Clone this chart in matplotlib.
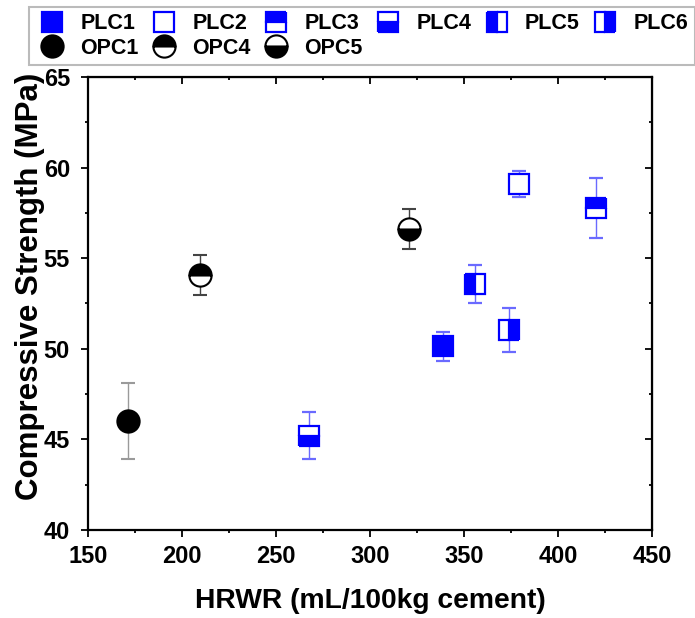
import matplotlib.pyplot as plt
from matplotlib.lines import Line2D
from matplotlib.ticker import MultipleLocator

plt.rcParams['font.family'] = ['Liberation Sans', 'DejaVu Sans']
plt.rcParams['font.weight'] = 'bold'
plt.rcParams['axes.labelweight'] = 'bold'

# PLC mixes
plc_names = ["PLC1", "PLC2", "PLC3", "PLC4", "PLC5", "PLC6"]
plc_hrwr = [339, 379, 420, 267.5, 356, 374]
plc_strength = [50.15, 59.1, 57.75, 45.2, 53.6, 51.05]
plc_err = [0.8, 0.7, 1.65, 1.3, 1.05, 1.2]
plc_fill = ["full", "none", "top", "bottom", "left", "right"]

# OPC mixes
opc_names = ["OPC1", "OPC4", "OPC5"]
opc_hrwr = [171.5, 209.5, 321]
opc_strength = [46.0, 54.05, 56.6]
opc_err = [2.1, 1.1, 1.1]
opc_fill = ["full", "top", "bottom"]
opc_ecol = ["#9a9a9a", "#444444", "#444444"]

blue = "#0000ff"

fig = plt.figure(figsize=(6.95, 6.18), dpi=100)
ax = fig.add_axes([0.1266, 0.1424, 0.8115, 0.733])

plc_handles = []
for name, x, y, e, fs in zip(plc_names, plc_hrwr, plc_strength, plc_err, plc_fill):
    style = dict(marker="s", ms=14.5, mec=blue, mew=1.6, mfc=blue,
                 markerfacecoloralt="white", fillstyle=fs, linestyle="none")
    if fs == "none":
        style.update(mfc="white", fillstyle="full")
    ax.errorbar(x, y, yerr=e, ecolor="#6a6aff", elinewidth=1.0, capsize=5,
                capthick=1.0, zorder=3, **style)
    plc_handles.append(Line2D([], [], label=name, **style))

opc_handles = []
for name, x, y, e, fs, ec in zip(opc_names, opc_hrwr, opc_strength, opc_err, opc_fill, opc_ecol):
    style = dict(marker="o", ms=16, mec="black", mew=1.5, mfc="black",
                 markerfacecoloralt="white", fillstyle=fs, linestyle="none")
    ax.errorbar(x, y, yerr=e, ecolor=ec, elinewidth=1.0, capsize=5,
                capthick=1.0, zorder=3, **style)
    opc_handles.append(Line2D([], [], label=name, **style))

ax.set_xlim(150, 450)
ax.set_ylim(40, 65)
ax.xaxis.set_major_locator(MultipleLocator(50))
ax.xaxis.set_minor_locator(MultipleLocator(25))
ax.yaxis.set_major_locator(MultipleLocator(5))
ax.yaxis.set_minor_locator(MultipleLocator(2.5))

for s in ax.spines.values():
    s.set_linewidth(1.6)

ax.tick_params(which="both", direction="out", top=False, right=False, width=1.3,
               labelsize=17)
ax.tick_params(axis="x", pad=6)
ax.tick_params(axis="y", pad=8)
ax.tick_params(which="major", length=5)
ax.tick_params(which="minor", length=2.5)

# inward ticks on the top and right edges
sec_x = ax.secondary_xaxis("top")
sec_x.xaxis.set_major_locator(MultipleLocator(50))
sec_x.xaxis.set_minor_locator(MultipleLocator(25))
sec_x.tick_params(which="both", direction="in", width=1.3, labeltop=False)
sec_x.tick_params(which="major", length=5)
sec_x.tick_params(which="minor", length=2.5)
sec_y = ax.secondary_yaxis("right")
sec_y.yaxis.set_major_locator(MultipleLocator(5))
sec_y.yaxis.set_minor_locator(MultipleLocator(2.5))
sec_y.tick_params(which="both", direction="in", width=1.3, labelright=False)
sec_y.tick_params(which="major", length=5)
sec_y.tick_params(which="minor", length=2.5)

ax.set_xlabel("HRWR (mL/100kg cement)", fontsize=20.3, labelpad=14)
ax.set_ylabel("Compressive Strength (MPa)", fontsize=22.5)
ax.yaxis.set_label_coords(-0.076, 0.5375)

# legend rows: PLC1..PLC6 on top, OPC1, OPC4, OPC5 below (column-major order)
order = [plc_handles[0], opc_handles[0], plc_handles[1], opc_handles[1],
         plc_handles[2], opc_handles[2], plc_handles[3], plc_handles[4], plc_handles[5]]
leg = fig.legend(handles=order, ncol=6, loc="upper left",
                 bbox_to_anchor=(29 / 695, 1 - 7 / 618), borderaxespad=0,
                 fontsize=15.5, frameon=True, fancybox=False, borderpad=0.3,
                 handlelength=1.56, handletextpad=0.53, columnspacing=0.4,
                 labelspacing=0.15)
leg.get_frame().set_edgecolor("#aaaaaa")
leg.get_frame().set_linewidth(1.5)

fig.savefig("out.png", dpi=100)
